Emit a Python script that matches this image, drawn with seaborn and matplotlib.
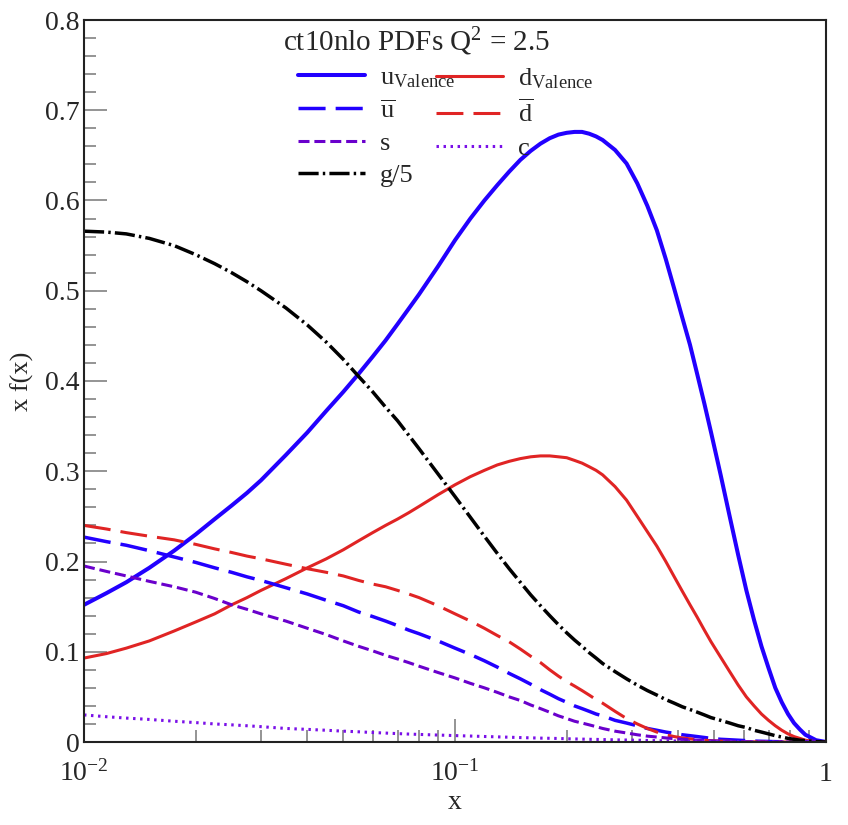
import numpy as np
import pandas as pd
import matplotlib
matplotlib.use("Agg")
import matplotlib.pyplot as plt
import seaborn as sns
from matplotlib.lines import Line2D
from matplotlib.ticker import FixedLocator, LogLocator, NullFormatter, MultipleLocator, FuncFormatter, FixedFormatter

# ---------------- data ----------------
x_vals = [0.01, 0.0115, 0.013, 0.015, 0.0175, 0.02, 0.0225, 0.025, 0.0275, 0.03,
          0.035, 0.04, 0.045, 0.05, 0.055, 0.06, 0.065, 0.07, 0.075, 0.08,
          0.09, 0.1, 0.11, 0.12, 0.13, 0.14, 0.15, 0.16, 0.17, 0.18,
          0.19, 0.2, 0.21, 0.22, 0.23, 0.24, 0.25, 0.27, 0.29, 0.31,
          0.33, 0.35, 0.37, 0.39, 0.41, 0.43, 0.45, 0.47, 0.49, 0.52,
          0.55, 0.58, 0.61, 0.64, 0.67, 0.70, 0.73, 0.76, 0.79, 0.82,
          0.85, 0.88, 0.91, 0.94, 0.97, 1.0]

u_valence = [0.152, 0.165, 0.177, 0.193, 0.212, 0.230, 0.247, 0.262, 0.276, 0.290,
             0.318, 0.343, 0.367, 0.388, 0.408, 0.427, 0.445, 0.463, 0.480, 0.496,
             0.527, 0.556, 0.580, 0.600, 0.617, 0.632, 0.645, 0.655, 0.663, 0.669,
             0.673, 0.675, 0.676, 0.676, 0.674, 0.671, 0.667, 0.656, 0.641, 0.619,
             0.594, 0.567, 0.535, 0.502, 0.470, 0.440, 0.407, 0.375, 0.343, 0.296,
             0.250, 0.207, 0.168, 0.135, 0.106, 0.082, 0.060, 0.044, 0.031, 0.021,
             0.014, 0.008, 0.005, 0.002, 0.001, 0.0]
d_valence = [0.093, 0.098, 0.104, 0.112, 0.123, 0.133, 0.142, 0.152, 0.160, 0.168,
             0.181, 0.193, 0.203, 0.213, 0.223, 0.232, 0.240, 0.247, 0.254, 0.261,
             0.274, 0.285, 0.294, 0.301, 0.307, 0.311, 0.314, 0.316, 0.317, 0.317,
             0.316, 0.315, 0.312, 0.309, 0.305, 0.301, 0.296, 0.283, 0.268, 0.250,
             0.233, 0.217, 0.200, 0.183, 0.167, 0.152, 0.138, 0.124, 0.111, 0.094,
             0.078, 0.063, 0.050, 0.040, 0.031, 0.024, 0.018, 0.013, 0.009, 0.006,
             0.004, 0.002, 0.001, 0.0005, 0.0002, 0.0]
u_bar = [0.227, 0.222, 0.218, 0.212, 0.205, 0.199, 0.193, 0.188, 0.183, 0.179,
         0.171, 0.164, 0.157, 0.151, 0.144, 0.139, 0.134, 0.129, 0.124, 0.120,
         0.112, 0.104, 0.097, 0.090, 0.083, 0.076, 0.070, 0.064, 0.058, 0.053,
         0.048, 0.044, 0.040, 0.037, 0.034, 0.031, 0.029, 0.024, 0.021, 0.018,
         0.015, 0.013, 0.011, 0.0095, 0.008, 0.007, 0.006, 0.005, 0.004, 0.003,
         0.0025, 0.002, 0.0015, 0.001, 0.0008, 0.0006, 0.0004, 0.0003, 0.0002, 0.0001,
         0.0001, 0.0, 0.0, 0.0, 0.0, 0.0]
d_bar = [0.240, 0.236, 0.232, 0.228, 0.224, 0.219, 0.214, 0.210, 0.206, 0.203,
         0.197, 0.192, 0.188, 0.184, 0.179, 0.175, 0.172, 0.168, 0.164, 0.160,
         0.151, 0.142, 0.134, 0.126, 0.118, 0.111, 0.103, 0.095, 0.088, 0.080,
         0.073, 0.067, 0.062, 0.057, 0.052, 0.047, 0.043, 0.034, 0.026, 0.020,
         0.015, 0.011, 0.008, 0.006, 0.0045, 0.0035, 0.0025, 0.002, 0.0015, 0.001,
         0.0007, 0.0005, 0.0003, 0.0002, 0.0001, 0.0001, 0.0, 0.0, 0.0, 0.0,
         0.0, 0.0, 0.0, 0.0, 0.0, 0.0]
strange = [0.195, 0.189, 0.184, 0.178, 0.172, 0.166, 0.159, 0.152, 0.147, 0.142,
           0.134, 0.126, 0.119, 0.112, 0.106, 0.101, 0.096, 0.092, 0.088, 0.084,
           0.077, 0.071, 0.065, 0.060, 0.055, 0.050, 0.046, 0.041, 0.037, 0.033,
           0.029, 0.026, 0.023, 0.021, 0.019, 0.017, 0.015, 0.012, 0.010, 0.008,
           0.0065, 0.0055, 0.0045, 0.0037, 0.003, 0.0025, 0.002, 0.0016, 0.0013, 0.001,
           0.0007, 0.0005, 0.0003, 0.0002, 0.0001, 0.0001, 0.0, 0.0, 0.0, 0.0,
           0.0, 0.0, 0.0, 0.0, 0.0, 0.0]
charm = [0.030, 0.028, 0.0265, 0.025, 0.023, 0.0215, 0.020, 0.019, 0.018, 0.017,
         0.015, 0.014, 0.013, 0.012, 0.0113, 0.0105, 0.0099, 0.0093, 0.0088, 0.0084,
         0.0077, 0.0071, 0.0066, 0.0061, 0.0057, 0.0053, 0.0049, 0.0046, 0.0043, 0.0041,
         0.0039, 0.0036, 0.0034, 0.0032, 0.0030, 0.0029, 0.0027, 0.0024, 0.0022, 0.0020,
         0.0017, 0.0015, 0.0013, 0.0012, 0.0010, 0.0009, 0.0008, 0.0007, 0.0006, 0.0005,
         0.0004, 0.0003, 0.0002, 0.0002, 0.0001, 0.0001, 0.0, 0.0, 0.0, 0.0,
         0.0, 0.0, 0.0, 0.0, 0.0, 0.0]
gluon_over_5 = [0.566, 0.565, 0.563, 0.558, 0.550, 0.540, 0.530, 0.520, 0.510, 0.500,
                0.481, 0.462, 0.443, 0.424, 0.405, 0.388, 0.371, 0.356, 0.340, 0.325,
                0.297, 0.272, 0.249, 0.228, 0.209, 0.192, 0.177, 0.163, 0.151, 0.140,
                0.130, 0.121, 0.113, 0.106, 0.099, 0.093, 0.087, 0.078, 0.070, 0.063,
                0.057, 0.052, 0.047, 0.043, 0.039, 0.036, 0.033, 0.030, 0.027, 0.024,
                0.021, 0.018, 0.016, 0.013, 0.011, 0.009, 0.007, 0.0055, 0.004, 0.003,
                0.002, 0.0015, 0.001, 0.0005, 0.0002, 0.0]

labels = ["u$_{\\mathrm{Valence}}$", "d$_{\\mathrm{Valence}}$", "$\\overline{\\mathrm{u}}$",
          "$\\overline{\\mathrm{d}}$", "s", "c", "g/5"]
title_text = "ct10nlo PDFs Q$^2$ = 2.5"
x_tick_vals = [0.01, 0.1, 1.0]
x_tick_labels = ["$10^{-2}$", "$10^{-1}$", "1"]

# ---------------- style ----------------
sns.set_style("ticks")
plt.rcParams["font.family"] = ["Liberation Serif", "DejaVu Serif"]
plt.rcParams["mathtext.fontset"] = "custom"
plt.rcParams["mathtext.rm"] = "Liberation Serif"
plt.rcParams["mathtext.it"] = "Liberation Serif:italic"
plt.rcParams["mathtext.bf"] = "Liberation Serif:bold"

BLUE = "#2200ff"
RED = "#e02424"
PURPLE = "#6a00cc"
VIOLET = "#7a10e8"
BLACK = "#000000"

styles = [
    dict(data=u_valence, color=BLUE, lw=2.9, ls="-"),
    dict(data=d_valence, color=RED, lw=2.2, ls="-"),
    dict(data=u_bar, color=BLUE, lw=2.5, ls=(0, (7.8, 2.9))),
    dict(data=d_bar, color=RED, lw=2.2, ls=(0, (8.8, 3.3))),
    dict(data=strange, color=PURPLE, lw=2.2, ls=(0, (3.6, 1.6))),
    dict(data=charm, color=VIOLET, lw=2.2, ls=(0, (0.8, 1.5))),
    dict(data=gluon_over_5, color=BLACK, lw=2.5, ls=(0, (5.8, 1.2, 0.7, 1.2))),
]

fig = plt.figure(figsize=(8.48, 8.25), dpi=100)
ax = fig.add_axes([84 / 848, 1 - 742 / 825, 742 / 848, 722 / 825])

for st in styles:
    df = pd.DataFrame({"x": x_vals, "y": st["data"]})
    sns.lineplot(data=df, x="x", y="y", ax=ax, color=st["color"], linewidth=st["lw"],
                 linestyle=st["ls"], estimator=None, sort=False, legend=False)

ax.set_xscale("log")
ax.set_xlim(0.01, 1.0)
ax.set_ylim(0, 0.8)

ax.xaxis.set_major_locator(FixedLocator(x_tick_vals))
ax.xaxis.set_major_formatter(FixedFormatter(x_tick_labels))
ax.xaxis.set_minor_locator(LogLocator(base=10, subs=np.arange(2, 10)))
ax.xaxis.set_minor_formatter(NullFormatter())
ax.yaxis.set_major_locator(MultipleLocator(0.1))
ax.yaxis.set_minor_locator(MultipleLocator(0.02))
ax.yaxis.set_major_formatter(FuncFormatter(lambda v, p: "0" if abs(v) < 1e-9 else f"{v:.1f}"))

ax.tick_params(axis="both", which="major", direction="in", length=16.5, width=1.1,
               color="#777777", labelsize=20, top=False, right=False)
ax.tick_params(axis="both", which="minor", direction="in", length=8.5, width=1.1,
               color="#777777", top=False, right=False)
ax.tick_params(axis="y", which="major", pad=3)
ax.tick_params(axis="x", which="major", pad=28)

for sp in ax.spines.values():
    sp.set_linewidth(1.5)
    sp.set_color("#222222")

ax.set_xlabel("x", fontsize=20, labelpad=2)
ax.set_ylabel("x f(x)", fontsize=19, labelpad=8)

# legend
handles = [Line2D([], [], color=st["color"], lw=st["lw"], ls=st["ls"]) for st in styles]
col1 = [0, 2, 4, 6]
col2 = [1, 3, 5]
leg_kw = dict(loc="upper left", frameon=False, fontsize=19, handlelength=2.54,
              handletextpad=0.57, labelspacing=0.34, borderpad=0, borderaxespad=0)
leg1 = ax.legend([handles[i] for i in col1], [labels[i] for i in col1],
                 bbox_to_anchor=((298 - 84) / 742, (742 - 66) / 722), **leg_kw)
ax.add_artist(leg1)
leg2 = ax.legend([handles[i] for i in col2], [labels[i] for i in col2],
                 bbox_to_anchor=((436 - 84) / 742, (742 - 66) / 722), **leg_kw)
ax.text((283 - 84) / 742, (742 - 42) / 722, title_text, transform=ax.transAxes,
        fontsize=21, ha="left", va="center")

for lab in ax.get_xticklabels():
    lab.set_verticalalignment("baseline")

fig.savefig("out.png", dpi=100)
